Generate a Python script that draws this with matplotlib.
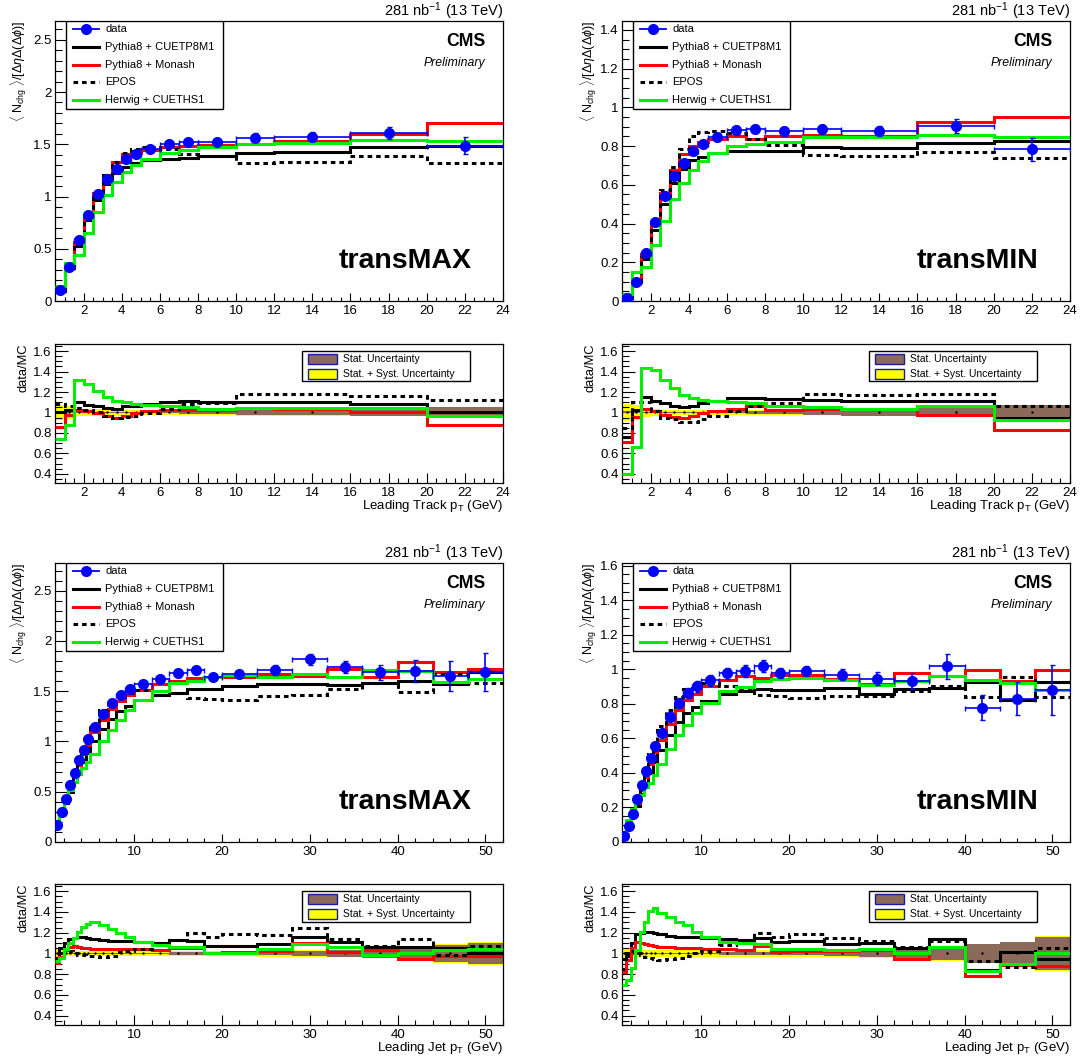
import matplotlib
matplotlib.use("Agg")
import matplotlib.pyplot as plt
from matplotlib.patches import Rectangle
from matplotlib.lines import Line2D
from matplotlib.ticker import MultipleLocator, FuncFormatter
import numpy as np

plt.rcParams['font.family'] = ['Liberation Sans', 'DejaVu Sans']
plt.rcParams['mathtext.fontset'] = 'custom'
plt.rcParams['mathtext.rm'] = 'Liberation Sans'
plt.rcParams['mathtext.it'] = 'Liberation Sans:italic'
plt.rcParams['mathtext.bf'] = 'Liberation Sans:bold'

# ---- binning ----
track_edges = [0.5, 1.0, 1.5, 2.0, 2.5, 3.0, 3.5, 4.0, 4.5, 5.0, 6.0, 7.0, 8.0,
               10.0, 12.0, 16.0, 20.0, 24.0]
jet_edges = [1, 1.5, 2, 2.5, 3, 3.5, 4, 4.5, 5, 6, 7, 8, 9, 10, 12, 14, 16, 18,
             20, 24, 28, 32, 36, 40, 44, 48, 52]

# ---- leading track, transMAX ----
trkmax_data = [0.106, 0.324, 0.583, 0.827, 1.026, 1.167, 1.266, 1.359, 1.407,
               1.455, 1.503, 1.522, 1.522, 1.564, 1.574, 1.606, 1.487]
trkmax_r_cuetp8m1 = [1.00, 1.02, 1.10, 1.07, 1.06, 1.04, 1.035, 1.06, 1.065,
                     1.08, 1.105, 1.11, 1.10, 1.105, 1.105, 1.087, 1.005]
trkmax_r_monash = [0.86, 0.975, 1.025, 1.01, 0.99, 0.965, 0.95, 0.965, 0.99,
                   1.01, 1.02, 1.025, 1.02, 1.04, 1.03, 1.005, 0.875]
trkmax_r_epos = [1.08, 1.06, 1.04, 1.02, 1.0, 0.965, 0.95, 0.96, 0.97,
                 0.99, 1.03, 1.085, 1.095, 1.18, 1.18, 1.16, 1.125]
trkmax_r_herwig = [0.74, 0.88, 1.32, 1.28, 1.21, 1.15, 1.11, 1.10, 1.08,
                   1.07, 1.06, 1.05, 1.035, 1.04, 1.04, 1.04, 0.97]
trkmax_stat = [0.005, 0.005, 0.005, 0.005, 0.005, 0.005, 0.005, 0.006, 0.006,
               0.008, 0.01, 0.012, 0.015, 0.025, 0.025, 0.03, 0.05]
trkmax_tot = [0.07, 0.06, 0.035, 0.03, 0.03, 0.03, 0.03, 0.025, 0.025,
              0.02, 0.02, 0.02, 0.02, 0.03, 0.03, 0.035, 0.055]

# ---- leading track, transMIN ----
trkmin_data = [0.015, 0.099, 0.25, 0.41, 0.544, 0.648, 0.714, 0.774, 0.812,
               0.847, 0.881, 0.888, 0.876, 0.888, 0.878, 0.906, 0.783]
trkmin_r_cuetp8m1 = [0.76, 1.02, 1.148, 1.115, 1.09, 1.067, 1.05, 1.063, 1.09,
                     1.11, 1.138, 1.145, 1.13, 1.12, 1.11, 1.11, 0.945]
trkmin_r_monash = [0.715, 0.96, 1.035, 1.015, 0.975, 0.96, 0.943, 0.966, 0.99,
                   1.01, 1.035, 1.063, 1.025, 1.035, 1.03, 0.98, 0.825]
trkmin_r_epos = [0.85, 1.10, 1.105, 1.01, 0.95, 0.937, 0.91, 0.91, 0.933,
                 0.966, 1.015, 1.063, 1.09, 1.177, 1.17, 1.18, 1.063]
trkmin_r_herwig = [0.40, 0.667, 1.437, 1.42, 1.32, 1.235, 1.17, 1.14, 1.12,
                   1.11, 1.10, 1.095, 1.067, 1.05, 1.035, 1.06, 0.925]
trkmin_stat = [0.01, 0.006, 0.005, 0.005, 0.005, 0.005, 0.005, 0.006, 0.006,
               0.008, 0.01, 0.012, 0.015, 0.02, 0.03, 0.04, 0.075]
trkmin_tot = [0.08, 0.07, 0.04, 0.03, 0.025, 0.025, 0.025, 0.025, 0.025,
              0.025, 0.025, 0.025, 0.025, 0.025, 0.03, 0.04, 0.075]

# ---- leading jet, transMAX ----
jetmax_data = [0.17, 0.30, 0.43, 0.57, 0.69, 0.82, 0.92, 1.02, 1.14, 1.27, 1.38,
               1.46, 1.52, 1.57, 1.62, 1.68, 1.71, 1.64, 1.67, 1.71, 1.82, 1.74,
               1.69, 1.70, 1.65, 1.69]
jetmax_r_cuetp8m1 = [0.96, 1.05, 1.10, 1.135, 1.15, 1.155, 1.155, 1.15, 1.14,
                     1.13, 1.125, 1.12, 1.12, 1.11, 1.105, 1.13, 1.12, 1.075,
                     1.075, 1.09, 1.16, 1.115, 1.065, 1.06, 1.05, 1.0]
jetmax_r_monash = [0.91, 0.97, 1.03, 1.065, 1.07, 1.065, 1.055, 1.055, 1.045,
                   1.045, 1.045, 1.04, 1.04, 1.04, 1.03, 1.05, 1.05, 1.0,
                   1.015, 1.025, 1.105, 1.01, 1.03, 0.95, 0.975, 0.98]
jetmax_r_epos = [0.95, 1.0, 1.04, 1.02, 1.0, 0.99, 0.985, 0.98, 0.975,
                 0.97, 0.975, 1.01, 1.025, 1.04, 1.08, 1.13, 1.195, 1.155,
                 1.185, 1.175, 1.245, 1.14, 1.07, 1.14, 0.985, 1.07]
jetmax_r_herwig = [0.93, 0.96, 1.04, 1.10, 1.15, 1.21, 1.255, 1.285, 1.30,
                   1.27, 1.235, 1.20, 1.16, 1.115, 1.08, 1.065, 1.065, 1.0,
                   1.005, 1.04, 1.09, 1.06, 0.985, 1.0, 1.035, 1.04]
jetmax_stat = [0.005, 0.005, 0.005, 0.005, 0.005, 0.005, 0.005, 0.005, 0.005,
               0.005, 0.005, 0.005, 0.005, 0.007, 0.008, 0.01, 0.01, 0.01,
               0.012, 0.017, 0.022, 0.03, 0.04, 0.06, 0.085, 0.105]
jetmax_tot = [0.04, 0.03, 0.025, 0.025, 0.025, 0.025, 0.025, 0.025, 0.02,
              0.02, 0.02, 0.02, 0.02, 0.02, 0.02, 0.02, 0.02, 0.02,
              0.025, 0.03, 0.03, 0.035, 0.045, 0.065, 0.09, 0.11]

# ---- leading jet, transMIN ----
jetmin_data = [0.037, 0.093, 0.164, 0.249, 0.332, 0.412, 0.485, 0.555, 0.632,
               0.725, 0.806, 0.864, 0.902, 0.937, 0.976, 0.989, 1.018, 0.98,
               0.989, 0.97, 0.945, 0.93, 1.018, 0.779, 0.831, 0.879]
jetmin_r_cuetp8m1 = [0.85, 0.98, 1.10, 1.185, 1.20, 1.21, 1.21, 1.20, 1.19,
                     1.17, 1.16, 1.16, 1.155, 1.145, 1.135, 1.13, 1.15, 1.11,
                     1.12, 1.09, 1.10, 1.05, 1.14, 0.84, 1.01, 0.95]
jetmin_r_monash = [0.82, 0.935, 1.05, 1.11, 1.10, 1.095, 1.08, 1.07, 1.065,
                   1.06, 1.055, 1.05, 1.05, 1.04, 1.04, 1.03, 1.07, 1.015,
                   1.025, 1.025, 1.03, 0.95, 1.06, 0.78, 0.89, 0.88]
jetmin_r_epos = [0.95, 1.0, 1.02, 1.0, 0.985, 0.97, 0.955, 0.945, 0.94,
                 0.945, 0.96, 0.975, 1.0, 1.02, 1.08, 1.11, 1.195, 1.16,
                 1.185, 1.15, 1.12, 1.06, 1.125, 0.93, 0.87, 1.05]
jetmin_r_herwig = [0.70, 0.745, 0.86, 1.03, 1.21, 1.30, 1.41, 1.44, 1.39,
                   1.35, 1.30, 1.27, 1.21, 1.16, 1.115, 1.10, 1.09, 1.04,
                   1.04, 1.035, 1.04, 1.0, 1.06, 0.83, 0.90, 1.0]
jetmin_stat = [0.005, 0.005, 0.005, 0.005, 0.005, 0.005, 0.005, 0.005, 0.005,
               0.005, 0.006, 0.006, 0.007, 0.008, 0.01, 0.012, 0.015, 0.015,
               0.015, 0.025, 0.03, 0.045, 0.065, 0.09, 0.11, 0.16]
jetmin_tot = [0.05, 0.04, 0.035, 0.035, 0.035, 0.035, 0.035, 0.035, 0.035,
              0.035, 0.035, 0.035, 0.035, 0.035, 0.035, 0.035, 0.035, 0.03,
              0.03, 0.035, 0.04, 0.05, 0.07, 0.095, 0.115, 0.165]

model_labels = ['Pythia8 + CUETP8M1', 'Pythia8 + Monash', 'EPOS', 'Herwig + CUETHS1']
model_colors = ['black', '#ff0000', 'black', '#00ee00']
model_styles = ['-', '-', (0, (1.5, 1.3)), '-']
DATA_BLUE = '#0000ff'
BROWN = '#8c6a5a'
YELLOW = '#ffff00'
LW = 2.2

ylabel_main = r'$\langle\ \mathrm{N}_{\mathrm{chg}}\ \rangle/[\Delta\eta\Delta(\Delta\phi)]$'
lumi_text = r'281 nb$^{-1}$ (13 TeV)'

W, H = 1081.0, 1057.0
fig = plt.figure(figsize=(10.81, 10.57), dpi=100)


def place(x0, y0, x1, y1):
    return fig.add_axes([x0 / W, 1 - y1 / H, (x1 - x0) / W, (y1 - y0) / H])


fmt = FuncFormatter(lambda v, p: '%g' % round(v, 6))


def style(ax, xmaj, xmin, ymaj, ymin, xlen):
    ax.xaxis.set_major_locator(MultipleLocator(xmaj))
    ax.xaxis.set_minor_locator(MultipleLocator(xmin))
    ax.yaxis.set_major_locator(MultipleLocator(ymaj))
    ax.yaxis.set_minor_locator(MultipleLocator(ymin))
    ax.xaxis.set_major_formatter(fmt)
    ax.yaxis.set_major_formatter(fmt)
    ax.tick_params(which='both', direction='in', top=False, right=False,
                   labelsize=9.5, width=0.8)
    ax.tick_params(axis='y', which='major', length=9.4, pad=2.5)
    ax.tick_params(axis='y', which='minor', length=4.7)
    ax.tick_params(axis='x', which='major', length=xlen, pad=3)
    ax.tick_params(axis='x', which='minor', length=xlen / 2)
    for s in ax.spines.values():
        s.set_linewidth(0.9)


def main_legend(ax):
    ax.add_patch(Rectangle((0.025, 0.686), 0.35, 0.314, transform=ax.transAxes,
                           facecolor='white', edgecolor='black', lw=1.0, zorder=10))
    y = 0.97
    ax.add_line(Line2D([0.040, 0.098], [y, y], transform=ax.transAxes,
                       color=DATA_BLUE, lw=1.3, zorder=11))
    ax.plot([0.069], [y], 'o', color=DATA_BLUE, ms=7, transform=ax.transAxes, zorder=12)
    ax.text(0.112, y, 'data', transform=ax.transAxes, va='center', fontsize=8, zorder=12)
    for i, (lab, c, ls) in enumerate(zip(model_labels, model_colors, model_styles)):
        y = 0.97 - 0.063 * (i + 1)
        ax.add_line(Line2D([0.040, 0.098], [y, y], transform=ax.transAxes,
                           color=c, lw=LW, linestyle=ls, zorder=11))
        ax.text(0.112, y, lab, transform=ax.transAxes, va='center', fontsize=8, zorder=12)


def ratio_legend(ax):
    ax.add_patch(Rectangle((0.551, 0.734), 0.375, 0.216, transform=ax.transAxes,
                           facecolor='white', edgecolor='black', lw=1.0, zorder=10))
    for y, col, lab in [(0.895, BROWN, 'Stat. Uncertainty'),
                        (0.785, YELLOW, 'Stat. + Syst. Uncertainty')]:
        ax.add_patch(Rectangle((0.565, y - 0.036), 0.064, 0.072, transform=ax.transAxes,
                               facecolor=col, edgecolor='#1a1a9a', lw=1.0, zorder=11))
        ax.text(0.643, y, lab, transform=ax.transAxes, va='center', fontsize=7.5, zorder=12)


def draw(col, row, edges, data, ratios, stat, tot, ytop, ymaj, ymin, xmaj, xmin,
         region, xlabel):
    x0 = 55 if col == 0 else 622
    x1 = x0 + 448
    if row == 0:
        ym0, ym1, yr0, yr1 = 21, 301, 344, 483
    else:
        ym0, ym1, yr0, yr1 = 563, 842, 884, 1025
    axm = place(x0, ym0, x1, ym1)
    axr = place(x0, yr0, x1, yr1)

    edges = np.asarray(edges, dtype=float)
    data = np.asarray(data)
    stat = np.asarray(stat)
    tot = np.asarray(tot)
    centers = 0.5 * (edges[1:] + edges[:-1])
    halfw = 0.5 * np.diff(edges)

    # main panel
    for r, c, ls in zip(ratios, model_colors, model_styles):
        axm.stairs(data / np.asarray(r), edges, color=c, lw=LW, linestyle=ls,
                   baseline=None, zorder=3)
    axm.errorbar(centers, data, xerr=halfw, yerr=data * tot, fmt='o', color=DATA_BLUE,
                 ms=7, elinewidth=1.2, capsize=1.8, capthick=1.0, zorder=6)
    axm.set_xlim(edges[0], edges[-1])
    axm.set_ylim(0, ytop)
    style(axm, xmaj, xmin, ymaj, ymin, 5.8)
    main_legend(axm)
    lx = -0.08 if col == 0 else -0.075
    axm.text(lx, 1.0, ylabel_main, rotation=90, ha='center', va='top',
             transform=axm.transAxes, fontsize=9)
    axm.text(1.0, 1.018, lumi_text, ha='right', va='baseline',
             transform=axm.transAxes, fontsize=10.5)
    axm.text(0.962, 0.912, 'CMS', ha='right', va='baseline', fontweight='bold',
             transform=axm.transAxes, fontsize=12.7)
    axm.text(0.96, 0.84, 'Preliminary', ha='right', va='baseline', style='italic',
             transform=axm.transAxes, fontsize=8.8)
    axm.text(0.93, 0.118, region, ha='right', va='baseline', fontweight='bold',
             transform=axm.transAxes, fontsize=20.5)

    # ratio panel
    axr.stairs(1 + tot, edges, baseline=1 - tot, fill=True, color=YELLOW, lw=0, zorder=1)
    axr.stairs(1 + stat, edges, baseline=1 - stat, fill=True, color=BROWN, lw=0, zorder=2)
    axr.plot(centers, np.ones_like(centers), '.', color='black', ms=1.5, zorder=2.5)
    for r, c, ls in zip(ratios, model_colors, model_styles):
        axr.stairs(np.asarray(r), edges, color=c, lw=LW, linestyle=ls,
                   baseline=None, zorder=3)
    axr.set_xlim(edges[0], edges[-1])
    axr.set_ylim(0.31, 1.67)
    style(axr, xmaj, xmin, 0.2, 0.05, 7.0)
    ratio_legend(axr)
    axr.text(-0.07, 1.0, 'data/MC', rotation=90, ha='center', va='top',
             transform=axr.transAxes, fontsize=9.3)
    axr.text(1.0, -0.185, xlabel, ha='right', va='baseline',
             transform=axr.transAxes, fontsize=9.5)


draw(0, 0, track_edges, trkmax_data,
     [trkmax_r_cuetp8m1, trkmax_r_monash, trkmax_r_epos, trkmax_r_herwig],
     trkmax_stat, trkmax_tot, 2.68, 0.5, 0.1, 2, 0.5, 'transMAX',
     r'Leading Track p$_{\mathrm{T}}$ (GeV)')
draw(1, 0, track_edges, trkmin_data,
     [trkmin_r_cuetp8m1, trkmin_r_monash, trkmin_r_epos, trkmin_r_herwig],
     trkmin_stat, trkmin_tot, 1.446, 0.2, 0.05, 2, 0.5, 'transMIN',
     r'Leading Track p$_{\mathrm{T}}$ (GeV)')
draw(0, 1, jet_edges, jetmax_data,
     [jetmax_r_cuetp8m1, jetmax_r_monash, jetmax_r_epos, jetmax_r_herwig],
     jetmax_stat, jetmax_tot, 2.776, 0.5, 0.1, 10, 2, 'transMAX',
     r'Leading Jet p$_{\mathrm{T}}$ (GeV)')
draw(1, 1, jet_edges, jetmin_data,
     [jetmin_r_cuetp8m1, jetmin_r_monash, jetmin_r_epos, jetmin_r_herwig],
     jetmin_stat, jetmin_tot, 1.616, 0.2, 0.05, 10, 2, 'transMIN',
     r'Leading Jet p$_{\mathrm{T}}$ (GeV)')

fig.savefig('out.png', dpi=100)
